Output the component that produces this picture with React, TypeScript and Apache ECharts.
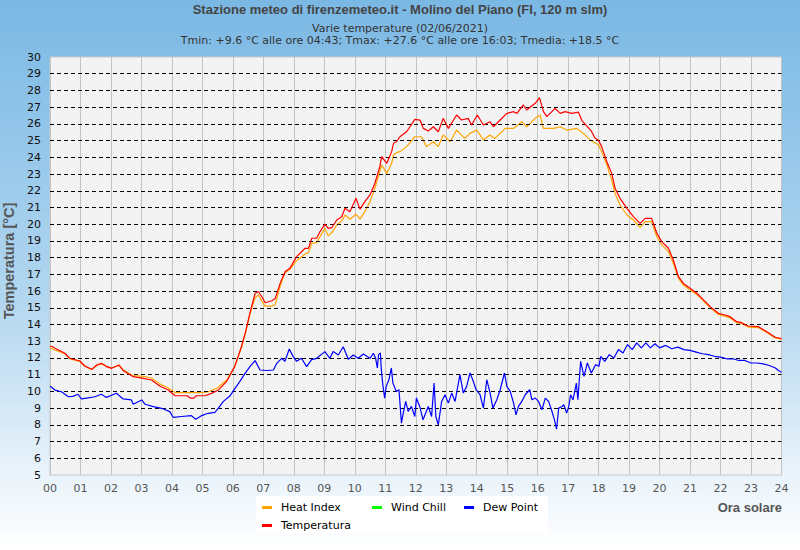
import React, { useEffect, useRef } from "react";
import * as echarts from "echarts";

// Tick / grid values
const hourTicks: number[] = Array.from({ length: 25 }, (_, i) => i);
const dashedGridValues: number[] = [6, 7, 8, 9, 10, 11, 12, 13, 14, 15, 16, 17, 18, 19, 20, 21, 22, 23, 24, 25, 26, 27, 28, 29];

const titleText = "Stazione meteo di firenzemeteo.it - Molino del Piano (FI, 120 m slm)";
const subtitle1 = "Varie temperature (02/06/2021)";
const subtitle2 = "Tmin: +9.6 °C alle ore 04:43; Tmax: +27.6 °C alle ore 16:03; Tmedia: +18.5 °C";

// [hour, °C]
const temperatura: [number, number][] = [
  [0, 12.7], [0.05, 12.7], [0.2, 12.55], [0.49, 12.28], [0.65, 11.98], [0.98, 11.82], [1.14, 11.52], [1.37, 11.32],
  [1.53, 11.58], [1.69, 11.68], [1.86, 11.48], [2.02, 11.38], [2.26, 11.58], [2.4, 11.25], [2.73, 10.88], [3.06, 10.78],
  [3.33, 10.68], [3.6, 10.32], [3.88, 10.08], [4.1, 9.74], [4.5, 9.74], [4.6, 9.6], [4.72, 9.6], [4.8, 9.74],
  [5.08, 9.74], [5.3, 9.88], [5.52, 10.08], [5.79, 10.58], [6.06, 11.48], [6.28, 12.68], [6.43, 13.67], [6.57, 14.77],
  [6.73, 15.87], [6.84, 15.96], [6.95, 15.66], [7.06, 15.3], [7.28, 15.42], [7.39, 15.56], [7.55, 16.46], [7.71, 17.16],
  [7.87, 17.36], [8.09, 18.06], [8.37, 18.56], [8.48, 18.56], [8.59, 19.16], [8.75, 19.16], [8.86, 19.56], [9.02, 20.0],
  [9.13, 19.75], [9.25, 19.8], [9.41, 20.25], [9.57, 20.45], [9.68, 20.95], [9.84, 20.75], [10.04, 21.55], [10.17, 20.9],
  [10.33, 21.35], [10.5, 21.75], [10.66, 22.45], [10.82, 23.44], [10.88, 24.04], [11.05, 23.64], [11.21, 24.34], [11.27, 24.84],
  [11.37, 24.93], [11.48, 25.23], [11.7, 25.53], [11.97, 26.27], [12.14, 26.23], [12.25, 25.73], [12.41, 25.57], [12.58, 25.83],
  [12.74, 25.53], [12.9, 26.33], [13.07, 25.73], [13.34, 26.53], [13.5, 26.23], [13.72, 26.33], [13.83, 25.93], [14.02, 26.53],
  [14.22, 25.93], [14.43, 26.13], [14.55, 25.83], [14.77, 26.23], [14.99, 26.63], [15.21, 26.73], [15.32, 26.63], [15.53, 27.13],
  [15.64, 26.83], [15.92, 27.23], [16.06, 27.57], [16.19, 26.73], [16.3, 26.43], [16.57, 26.93], [16.74, 26.63], [16.9, 26.73],
  [17.12, 26.63], [17.34, 26.7], [17.45, 26.2], [17.6, 25.9], [17.75, 25.6], [17.88, 25.15], [18.0, 25.0], [18.1, 24.64],
  [18.27, 23.74], [18.43, 23.04], [18.54, 22.15], [18.7, 21.55], [18.93, 20.95], [19.14, 20.45], [19.36, 20.05], [19.53, 20.35],
  [19.74, 20.35], [19.91, 19.46], [20.07, 18.96], [20.29, 18.56], [20.45, 17.86], [20.62, 16.86], [20.78, 16.46], [21.0, 16.17],
  [21.22, 15.87], [21.44, 15.47], [21.66, 15.07], [21.93, 14.67], [22.15, 14.57], [22.31, 14.47], [22.53, 14.17], [22.69, 14.11],
  [22.91, 13.91], [23.24, 13.87], [23.52, 13.57], [23.79, 13.24], [23.96, 13.18], [24, 13.15],
];

const heatIndex: [number, number][] = [
  [0, 12.6], [0.2, 12.45], [0.49, 12.25], [0.65, 11.95], [0.98, 11.8], [1.14, 11.5], [1.37, 11.3], [1.53, 11.55],
  [1.69, 11.65], [1.86, 11.5], [2.02, 11.4], [2.26, 11.55], [2.4, 11.3], [2.7, 10.95], [3.06, 10.9], [3.33, 10.8],
  [3.6, 10.45], [3.88, 10.2], [4.1, 9.93], [4.6, 9.93], [5.0, 9.93], [5.2, 9.98], [5.5, 10.22], [5.8, 10.68],
  [6.06, 11.5], [6.28, 12.6], [6.43, 13.6], [6.57, 14.7], [6.73, 15.6], [6.84, 15.77], [6.95, 15.4], [7.06, 15.1],
  [7.28, 15.1], [7.39, 15.2], [7.55, 16.28], [7.71, 17.1], [7.87, 17.3], [8.09, 17.82], [8.37, 18.22], [8.48, 18.3],
  [8.59, 18.86], [8.75, 18.9], [8.86, 19.26], [9.02, 19.75], [9.13, 19.3], [9.25, 19.5], [9.41, 19.95], [9.57, 20.2],
  [9.68, 20.55], [9.84, 20.3], [10.04, 20.6], [10.17, 20.3], [10.33, 20.75], [10.5, 21.35], [10.66, 22.15], [10.82, 23.14],
  [10.88, 23.54], [11.05, 23.04], [11.21, 23.64], [11.27, 24.14], [11.37, 24.28], [11.48, 24.34], [11.7, 24.64], [11.97, 25.23],
  [12.19, 25.23], [12.35, 24.64], [12.58, 24.93], [12.74, 24.64], [12.9, 25.34], [13.13, 24.93], [13.34, 25.63], [13.61, 25.13],
  [13.78, 25.43], [14.0, 25.63], [14.22, 25.04], [14.43, 25.34], [14.6, 25.13], [14.94, 25.73], [15.21, 25.73], [15.48, 26.13],
  [15.64, 25.83], [15.92, 26.33], [16.08, 26.53], [16.19, 25.73], [16.52, 25.73], [16.74, 25.83], [16.96, 25.63], [17.28, 25.73],
  [17.5, 25.43], [17.72, 25.04], [17.85, 24.9], [18.0, 24.74], [18.1, 24.34], [18.27, 23.54], [18.43, 22.64], [18.54, 21.85],
  [18.7, 21.15], [18.93, 20.55], [19.14, 20.25], [19.36, 19.81], [19.53, 20.15], [19.74, 20.15], [19.91, 19.25], [20.07, 18.76],
  [20.29, 18.36], [20.45, 17.66], [20.62, 16.76], [20.78, 16.36], [21.0, 16.07], [21.22, 15.8], [21.44, 15.4], [21.66, 15.0],
  [21.93, 14.6], [22.15, 14.5], [22.31, 14.4], [22.53, 14.1], [22.69, 14.05], [22.91, 13.85], [23.24, 13.82], [23.52, 13.52],
  [23.79, 13.2], [23.96, 13.14], [24, 13.1],
];

const windChill: [number, number][] = [];

const dewPoint: [number, number][] = [
  [0, 10.3], [0.03, 10.28], [0.16, 10.08], [0.38, 9.98], [0.6, 9.68], [0.75, 9.7], [0.92, 9.83], [1.03, 9.55],
  [1.2, 9.6], [1.47, 9.68], [1.69, 9.83], [1.85, 9.64], [2.18, 9.89], [2.4, 9.55], [2.67, 9.49], [2.73, 9.23],
  [3.01, 9.49], [3.12, 9.23], [3.39, 9.09], [3.66, 8.99], [3.93, 8.79], [4.04, 8.45], [4.32, 8.5], [4.64, 8.55],
  [4.78, 8.33], [4.97, 8.55], [5.19, 8.69], [5.41, 8.75], [5.52, 8.99], [5.68, 9.39], [5.9, 9.72], [6.07, 10.18],
  [6.23, 10.6], [6.4, 11.08], [6.56, 11.48], [6.73, 11.84], [6.89, 11.28], [7.11, 11.25], [7.33, 11.28], [7.44, 11.68],
  [7.6, 11.98], [7.71, 11.8], [7.85, 12.54], [7.98, 12.08], [8.09, 11.8], [8.25, 11.98], [8.42, 11.48], [8.58, 11.9],
  [8.75, 11.98], [9.02, 12.38], [9.18, 11.98], [9.29, 12.38], [9.46, 12.18], [9.62, 12.67], [9.79, 11.92], [9.95, 12.18],
  [10.11, 11.98], [10.28, 12.24], [10.5, 11.98], [10.61, 12.28], [10.68, 12.0], [10.74, 11.4], [10.78, 12.2], [10.84, 12.3],
  [10.87, 11.3], [10.92, 10.4], [10.98, 9.6], [11.03, 10.3], [11.12, 10.7], [11.2, 11.4], [11.25, 10.5], [11.36, 10.0],
  [11.45, 10.1], [11.53, 8.1], [11.58, 8.6], [11.67, 9.4], [11.75, 8.8], [11.86, 9.1], [11.97, 8.5], [12.02, 9.6],
  [12.13, 9.1], [12.24, 8.3], [12.41, 9.1], [12.52, 8.5], [12.6, 10.5], [12.66, 8.5], [12.74, 8.0], [12.85, 9.4],
  [12.96, 9.8], [13.07, 9.3], [13.18, 9.9], [13.29, 9.4], [13.45, 11.0], [13.56, 9.9], [13.67, 10.3], [13.78, 11.1],
  [13.87, 10.7], [13.98, 10.1], [14.11, 9.8], [14.22, 9.0], [14.33, 10.7], [14.44, 9.9], [14.53, 9.0], [14.66, 9.5],
  [14.77, 10.1], [14.91, 11.1], [14.99, 10.3], [15.1, 10.0], [15.21, 9.3], [15.29, 8.6], [15.37, 9.1], [15.48, 9.4],
  [15.59, 9.8], [15.74, 10.1], [15.81, 9.5], [15.92, 9.6], [16.03, 9.4], [16.14, 8.9], [16.25, 9.6], [16.36, 9.4],
  [16.47, 8.8], [16.55, 8.3], [16.62, 7.74], [16.69, 9.0], [16.8, 9.1], [16.86, 9.2], [16.95, 8.7], [17.02, 9.1],
  [17.08, 9.8], [17.16, 9.5], [17.27, 10.5], [17.32, 9.5], [17.41, 11.8], [17.52, 10.9], [17.63, 11.7], [17.76, 11.1],
  [17.9, 11.6], [18.01, 11.5], [18.07, 12.1], [18.2, 11.8], [18.35, 12.2], [18.5, 12.0], [18.65, 12.5], [18.8, 12.3],
  [18.95, 12.8], [19.1, 12.5], [19.25, 12.9], [19.4, 12.6], [19.55, 12.9], [19.7, 12.6], [19.85, 12.85], [20.0, 12.6],
  [20.2, 12.75], [20.4, 12.55], [20.6, 12.65], [20.8, 12.5], [21.0, 12.45], [21.2, 12.35], [21.4, 12.25], [21.6, 12.2],
  [21.8, 12.1], [22.0, 12.05], [22.2, 11.95], [22.4, 11.95], [22.6, 11.85], [22.8, 11.85], [23.0, 11.7], [23.2, 11.7],
  [23.4, 11.65], [23.6, 11.55], [23.8, 11.4], [23.9, 11.25], [24, 11.15],
];

const legendRow1: string[] = ["Heat Index", "Wind Chill", "Dew Point"];
const legendRow2: string[] = ["Temperatura"];

export default function App() {
  const ref = useRef<HTMLDivElement>(null);

  useEffect(() => {
    if (!ref.current) return;
    const chart = echarts.init(ref.current, null, { renderer: "svg" });

    const legendBase = {
      padding: 0,
      icon: "rect",
      itemWidth: 10,
      itemHeight: 3,
      textStyle: { fontFamily: "DejaVu Sans", fontSize: 11, color: "#000", padding: [0, 0, 0, 4] },
    };
    const legendLefts = [262, 372, 464];

    const lineSeries = (name: string, data: [number, number][], color: string, z: number) => ({
      name,
      type: "line",
      data,
      color,
      showSymbol: false,
      symbol: "none",
      z,
      lineStyle: { color, width: 1.2 },
      emphasis: { disabled: true },
    });

    chart.setOption({
      animation: false,
      backgroundColor: {
        type: "linear",
        x: 0, y: 0, x2: 0, y2: 1,
        colorStops: [
          { offset: 0, color: "#7ab8e4" },
          { offset: 0.55, color: "#b3d7f0" },
          { offset: 0.82, color: "#e2eff9" },
          { offset: 1, color: "#ffffff" },
        ],
      },
      title: [
        {
          text: titleText, left: "center", top: 3, padding: 0,
          textStyle: { fontFamily: "Liberation Sans", fontWeight: "bold", fontSize: 13, color: "#444" },
        },
        {
          text: subtitle1, left: "center", top: 23, padding: 0,
          textStyle: { fontFamily: "DejaVu Sans", fontWeight: "normal", fontSize: 11, color: "#333" },
        },
        {
          text: subtitle2, left: "center", top: 35, padding: 0,
          textStyle: { fontFamily: "DejaVu Sans", fontWeight: "normal", fontSize: 11, color: "#333" },
        },
      ],
      legend: [
        ...legendRow1.map((n, i) => ({ ...legendBase, data: [n], left: legendLefts[i], top: 502 })),
        ...legendRow2.map((n) => ({ ...legendBase, data: [n], left: legendLefts[0], top: 520 })),
      ],
      grid: {
        left: 50, right: 18.5, top: 57, bottom: 75,
        outerBoundsMode: "none",
        containLabel: false,
        show: true, backgroundColor: "#f3f3f3", borderColor: "#c8c8c8", borderWidth: 1,
      },
      xAxis: {
        type: "value", min: hourTicks[0], max: hourTicks[hourTicks.length - 1], interval: 1,
        axisLine: { show: false }, axisTick: { show: false },
        axisLabel: {
          margin: 8, fontFamily: "DejaVu Sans", fontSize: 11, color: "#555",
          formatter: (v: number) => String(v).padStart(2, "0"),
        },
        splitLine: { show: true, lineStyle: { color: "#c4c4c4", width: 1 } },
      },
      yAxis: {
        type: "value", min: 5, max: 30, interval: 1,
        name: "Temperatura [°C]", nameLocation: "middle", nameGap: 31,
        nameTextStyle: {
          fontFamily: "Liberation Sans", fontWeight: "bold", fontSize: 14.5, color: "#555",
          padding: [0, 0, 0, 10],
        },
        axisLine: { show: false }, axisTick: { show: false },
        axisLabel: { margin: 9, fontFamily: "DejaVu Sans", fontSize: 11, color: "#111" },
        splitLine: { show: false },
      },
      graphic: [
        { type: "rect", shape: { x: 256, y: 496, width: 292, height: 38 }, style: { fill: "#ffffff" }, z: 0 },
        {
          type: "text", x: 782, y: 507,
          style: {
            text: "Ora solare", align: "right", verticalAlign: "middle",
            font: "bold 13px 'Liberation Sans'", fill: "#555",
          },
        },
      ],
      series: [
        {
          type: "line", data: [], z: 1, silent: true,
          markLine: {
            silent: true, symbol: ["none", "none"], label: { show: false },
            lineStyle: { color: "#000", type: [4, 3], width: 1 },
            emphasis: { disabled: true },
            data: dashedGridValues.map((v) => ({ yAxis: v })),
          },
        },
        lineSeries("Heat Index", heatIndex, "#ffa500", 3),
        lineSeries("Wind Chill", windChill, "#00ff00", 4),
        lineSeries("Dew Point", dewPoint, "#0000ff", 5),
        lineSeries("Temperatura", temperatura, "#ff0000", 6),
      ],
    });

    return () => chart.dispose();
  }, []);

  return <div ref={ref} style={{ position: "fixed", left: 0, top: 0, width: 800, height: 550 }} />;
}
